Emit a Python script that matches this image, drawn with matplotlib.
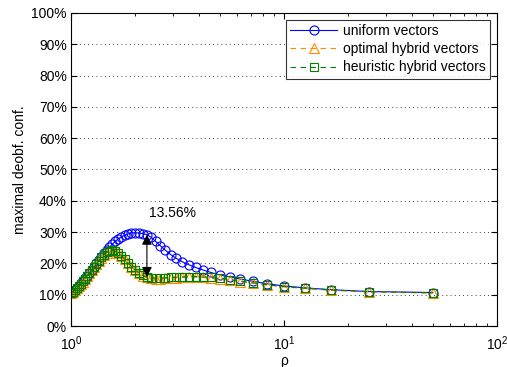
import numpy as np
import matplotlib.pyplot as plt
from matplotlib.ticker import FuncFormatter, LogLocator, NullFormatter

plt.rcParams['font.family'] = ['Liberation Sans', 'DejaVu Sans']

# rho values 50/k, k = 50 .. 1
rho = np.array([1.0, 1.0204, 1.0417, 1.0638, 1.087, 1.1111, 1.1364, 1.1628, 1.1905, 1.2195,
                1.25, 1.2821, 1.3158, 1.3514, 1.3889, 1.4286, 1.4706, 1.5152, 1.5625, 1.6129,
                1.6667, 1.7241, 1.7857, 1.8519, 1.9231, 2.0, 2.0833, 2.1739, 2.2727, 2.381,
                2.5, 2.6316, 2.7778, 2.9412, 3.125, 3.3333, 3.5714, 3.8462, 4.1667, 4.5455,
                5.0, 5.5556, 6.25, 7.1429, 8.3333, 10.0, 12.5, 16.667, 25.0, 50.0])

uniform = np.array([10.5, 11.0, 11.6, 12.2, 12.9, 13.6, 14.4, 15.2, 16.1, 17.0,
                    18.0, 19.0, 20.0, 21.0, 22.1, 23.2, 24.2, 25.2, 26.1, 27.0,
                    27.8, 28.5, 29.0, 29.4, 29.7, 29.8, 29.7, 29.5, 29.2, 28.3,
                    27.0, 25.6, 24.2, 22.8, 21.6, 20.5, 19.6, 18.7, 17.9, 17.1,
                    16.3, 15.7, 15.0, 14.3, 13.5, 12.8, 12.2, 11.6, 11.0, 10.7])

optimal = np.array([10.4, 10.9, 11.4, 12.0, 12.7, 13.4, 14.2, 15.0, 15.9, 16.8,
                    17.8, 18.8, 19.8, 20.8, 21.8, 22.7, 23.4, 23.9, 24.1, 23.9,
                    23.3, 22.4, 21.3, 20.1, 18.9, 17.8, 16.9, 16.1, 15.5, 15.2,
                    15.1, 15.1, 15.2, 15.3, 15.4, 15.5, 15.6, 15.6, 15.5, 15.3,
                    15.0, 14.6, 14.2, 13.7, 13.1, 12.5, 12.0, 11.4, 10.9, 10.5])

heuristic = np.array([10.5, 11.0, 11.5, 12.1, 12.8, 13.5, 14.3, 15.1, 16.0, 16.9,
                      17.9, 18.9, 19.9, 20.9, 21.9, 22.8, 23.5, 24.0, 24.2, 24.0,
                      23.4, 22.5, 21.4, 20.2, 19.0, 17.9, 17.0, 16.2, 15.64, 15.4,
                      15.3, 15.3, 15.4, 15.5, 15.6, 15.7, 15.8, 15.8, 15.7, 15.5,
                      15.2, 14.8, 14.3, 13.8, 13.2, 12.6, 12.1, 11.5, 11.0, 10.6])

gap_idx = 28  # rho = 2.27, where the gap is marked

fig = plt.figure(figsize=(5.07, 3.67), dpi=100)
ax = fig.add_axes([0.140, 0.1117, 0.840, 0.8529])

ax.plot(rho, uniform / 100, '-', color='#0000ff', lw=0.8, marker='o', ms=6.5,
        mfc='none', mec='#0000ff', mew=0.8, label='uniform vectors')
ax.plot(rho, optimal / 100, '--', color='#ff8c00', lw=0.8, marker='^', ms=6.5,
        mfc='none', mec='#ff8c00', mew=0.8, dashes=(5, 4), label='optimal hybrid vectors')
ax.plot(rho, heuristic / 100, '--', color='#008000', lw=0.8, marker='s', ms=6,
        mfc='none', mec='#008000', mew=0.8, dashes=(5, 4), label='heuristic hybrid vectors')

# double-headed arrow showing the gap between uniform and hybrid
x0 = rho[gap_idx]
top = uniform[gap_idx] / 100
bot = heuristic[gap_idx] / 100
ax.annotate('', xy=(x0, top), xytext=(x0, bot),
            arrowprops=dict(arrowstyle='<|-|>', color='black', lw=0.8,
                            mutation_scale=15, shrinkA=0, shrinkB=0))
ax.text(x0 * 1.32, 0.361, f'{uniform[gap_idx] - heuristic[gap_idx]:.2f}%',
        ha='center', va='center', fontsize=10)

ax.set_xscale('log')
ax.set_xlim(1, 100)
ax.set_ylim(0, 1)
ax.set_yticks(np.arange(0, 1.01, 0.1))
ax.yaxis.set_major_formatter(FuncFormatter(lambda v, p: f'{v * 100:.0f}%'))
ax.xaxis.set_major_locator(LogLocator(base=10))
ax.xaxis.set_minor_locator(LogLocator(base=10, subs=np.arange(2, 10)))
ax.xaxis.set_minor_formatter(NullFormatter())

ax.yaxis.grid(True, linestyle=(0, (1, 4)), color='black', lw=0.6)
ax.tick_params(which='both', direction='in', top=True, right=True, labelsize=10)
ax.tick_params(which='major', length=4)
ax.tick_params(which='minor', length=2)
ax.tick_params(axis='y', pad=3)
ax.tick_params(axis='x', pad=6)
for s in ax.spines.values():
    s.set_linewidth(0.8)

ax.set_xlabel('ρ', fontsize=10, labelpad=1)
ax.set_ylabel('maximal deobf. conf.', fontsize=10, labelpad=3)

leg = ax.legend(loc='upper right', fontsize=10, handlelength=3.4, frameon=True,
                fancybox=False, edgecolor='black', borderpad=0.3, labelspacing=0.3,
                handletextpad=0.4, borderaxespad=0.5)
leg.get_frame().set_linewidth(0.8)

fig.savefig('out.png', dpi=100)
